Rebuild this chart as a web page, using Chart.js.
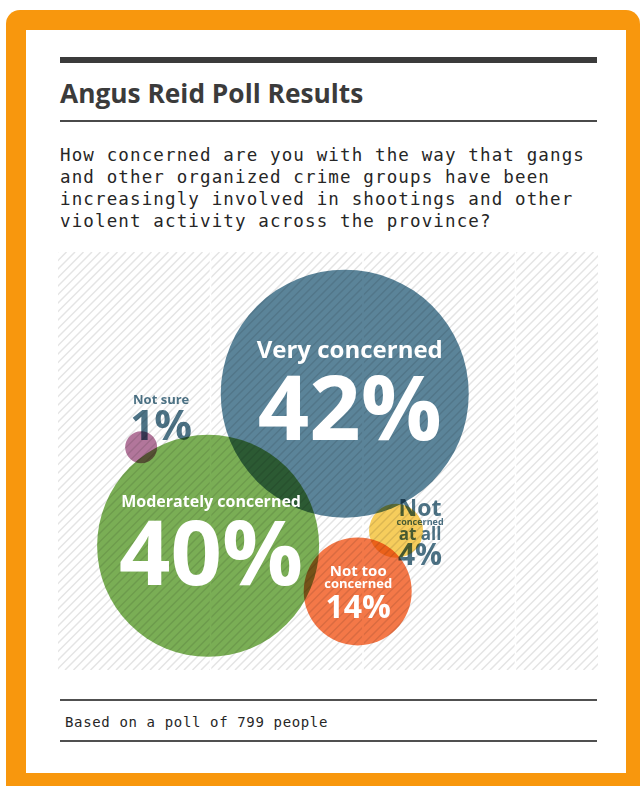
<!DOCTYPE html>
<html>
<head>
<meta charset="utf-8">
<script src="https://cdn.jsdelivr.net/npm/chart.js@4"></script>
<style>
  html, body { margin:0; padding:0; width:644px; height:786px; overflow:hidden; background:#ffffff; }
  .abs { position:absolute; }
  #frame { left:6px; top:10px; width:634px; height:800px; background:#f8970d; border-radius:14px; }
  #page { left:26px; top:30px; width:600px; height:743px; background:#ffffff; }
  #title { left:60px; top:80px; font-family:"Open Sans", sans-serif; font-weight:700; font-size:26.3px; line-height:26px; color:#3b3b3b; white-space:nowrap; }
  #question { left:60px; top:144px; font-family:"DejaVu Sans Mono", monospace; font-size:17.5px; line-height:22px; letter-spacing:1.13px; color:#262626; white-space:pre; }
  #footer { left:65px; top:715px; font-family:"DejaVu Sans Mono", monospace; font-size:14px; line-height:14px; letter-spacing:0.64px; color:#262626; white-space:pre; }
  .rule { left:60px; width:537px; }
  #chartBox { left:58px; top:252px; width:540px; height:418px; }
</style>
</head>
<body>
<div id="frame" class="abs"></div>
<div id="page" class="abs"></div>
<div class="abs rule" style="top:57px;height:6px;background:#3b3b3b"></div>
<div id="title" class="abs">Angus Reid Poll Results</div>
<div class="abs rule" style="top:120px;height:2px;background:#4a4a4a"></div>
<div id="question" class="abs">How concerned are you with the way that gangs
and other organized crime groups have been
increasingly involved in shootings and other
violent activity across the province?</div>
<div id="chartBox" class="abs"><canvas id="c"></canvas></div>
<div class="abs rule" style="top:699px;height:2px;background:#505050"></div>
<div id="footer" class="abs">Based on a poll of 799 people</div>
<div class="abs rule" style="top:740px;height:2px;background:#505050"></div>

<script>
// ---- data ----
const categories = ['Very concerned', 'Moderately concerned', 'Not too concerned', 'Not concerned at all', 'Not sure'];
const percentages = [42, 40, 14, 4, 1];
const bubbleX = [53.1, 27.8, 55.5, 62.6, 15.4];
const bubbleY = [66.1, 29.7, 18.8, 33.3, 53.3];
const bubbleR = [124, 111, 54, 27, 16];
// how many words go on each label line
const lineWords = [[2], [2], [2, 1], [1, 1, 2], [2]];

// ---- styles ----
const fills = ['#5b8499', '#7aae55', '#f47848', '#f6cd5c', '#b2769b'];
const slate = '#4d7386';
const labelStyle = [
  { dx: 5,   color: '#ffffff', multiply: false, lines: [{ s: 24, dy: -35.5 }], pct: { s: 90, dy: 46.5 } },
  { dx: 3,   color: '#ffffff', multiply: false, lines: [{ s: 16, dy: -39 }],   pct: { s: 90, dy: 39 } },
  { dx: 0.5, color: '#ffffff', multiply: false, lines: [{ s: 15, dy: -15.5 }, { s: 13, dy: -3.5 }], pct: { s: 32, dy: 26.5 } },
  { dx: 24,  color: slate,     multiply: true,  lines: [{ s: 23, dy: -15 }, { s: 9, dy: -6 }, { s: 17, dy: 9 }], pct: { s: 30, dy: 34 } },
  { dx: 20,  color: slate,     multiply: true,  lines: [{ s: 13, dy: -43 }],  pct: { s: 42, dy: -7 } }
];

function splitLines(text, counts) {
  const w = text.split(' ');
  const out = []; let i = 0;
  counts.forEach(n => { out.push(w.slice(i, i + n).join(' ')); i += n; });
  return out;
}

const hatchPlugin = {
  id: 'hatch',
  beforeDraw(chart) {
    const ctx = chart.ctx, W = chart.width, H = chart.height;
    ctx.save();
    ctx.beginPath(); ctx.rect(0, 0, W, H); ctx.clip();
    ctx.strokeStyle = '#e4e4e4';
    ctx.lineWidth = 1.5;
    for (let k = -H; k < W + H; k += 8.5) {
      ctx.beginPath();
      ctx.moveTo(k, H);
      ctx.lineTo(k + H, 0);
      ctx.stroke();
    }
    ctx.fillStyle = '#ffffff';
    for (let i = 1; i <= 3; i++) ctx.fillRect(152.5 * i - 0.8, 0, 1.6, H);
    ctx.restore();
  },
  beforeDatasetsDraw(chart) {
    chart.ctx.save();
    chart.ctx.globalCompositeOperation = 'multiply';
  },
  afterDatasetsDraw(chart) {
    const ctx = chart.ctx;
    ctx.restore();
    const meta = chart.getDatasetMeta(0);
    meta.data.forEach((pt, i) => {
      const st = labelStyle[i];
      const cx = pt.x + st.dx, cy = pt.y;
      ctx.save();
      ctx.globalCompositeOperation = st.multiply ? 'multiply' : 'source-over';
      ctx.fillStyle = st.color;
      ctx.textAlign = 'center';
      ctx.textBaseline = 'alphabetic';
      const lines = splitLines(categories[i], lineWords[i]);
      lines.forEach((t, j) => {
        ctx.font = '700 ' + st.lines[j].s + 'px "Open Sans"';
        ctx.fillText(t, cx, cy + st.lines[j].dy);
      });
      ctx.font = '700 ' + st.pct.s + 'px "Open Sans"';
      ctx.fillText(percentages[i] + '%', cx, cy + st.pct.dy);
      ctx.restore();
    });
  }
};

function build() {
  new Chart(document.getElementById('c'), {
    type: 'bubble',
    data: {
      labels: categories,
      datasets: [{
        data: categories.map((c, i) => ({ x: bubbleX[i], y: bubbleY[i], r: bubbleR[i] })),
        backgroundColor: fills,
        borderWidth: 0,
        hoverBorderWidth: 0,
        clip: false
      }]
    },
    options: {
      responsive: true,
      maintainAspectRatio: false,
      animation: false,
      events: [],
      layout: { padding: 0, autoPadding: false },
      scales: {
        x: { type: 'linear', min: 0, max: 100, display: false },
        y: { type: 'linear', min: 0, max: 100, display: false }
      },
      plugins: { legend: { display: false }, tooltip: { enabled: false } }
    },
    plugins: [hatchPlugin]
  });
}

Promise.all([
  document.fonts.load('700 24px "Open Sans"'),
  document.fonts.load('17px "DejaVu Sans Mono"')
]).then(build, build);
</script>
</body>
</html>
